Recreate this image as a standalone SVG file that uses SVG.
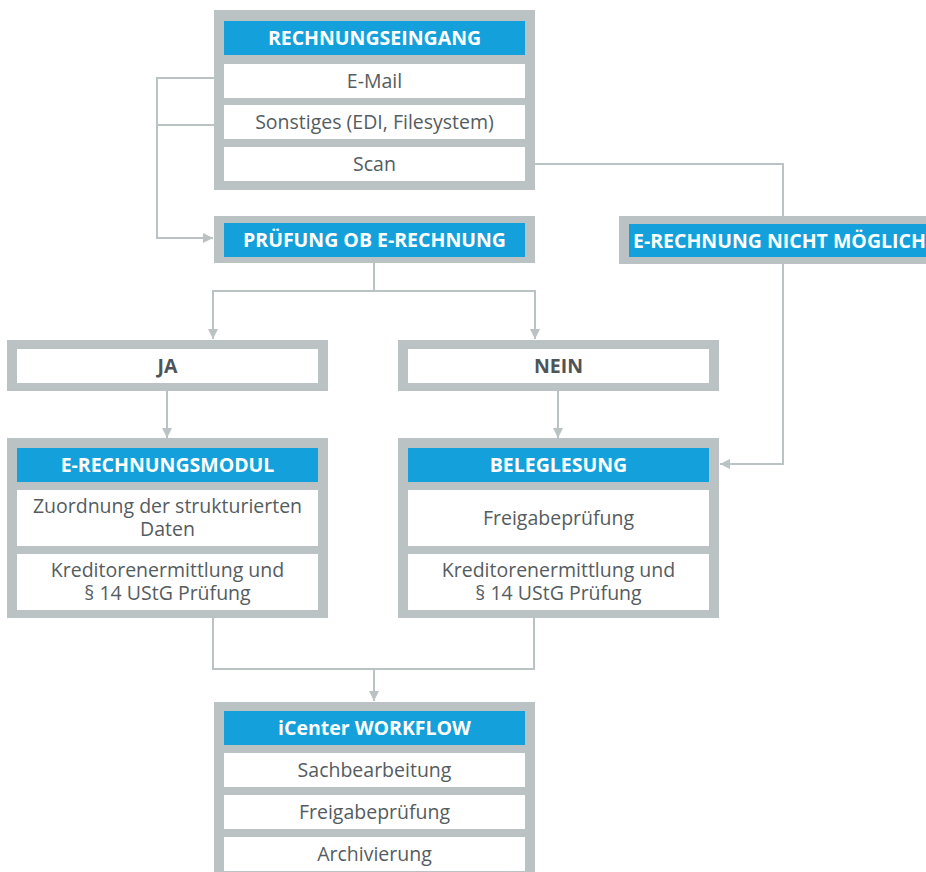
<svg xmlns="http://www.w3.org/2000/svg" width="926" height="872" viewBox="0 0 926 872">
<defs>
<style>
.frame{fill:#BAC2C4}
.head{fill:#14A1DB}
.row{fill:#FFFFFF}
.ht{font-family:"Open Sans","Liberation Sans",sans-serif;font-weight:bold;font-size:19.5px;fill:#FFFFFF;text-anchor:middle}
.bt{font-family:"Open Sans","Liberation Sans",sans-serif;font-weight:bold;font-size:19.5px;fill:#4D5558;text-anchor:middle}
.rt{font-family:"Open Sans","Liberation Sans",sans-serif;font-size:19.5px;fill:#555C5F;text-anchor:middle}
.con{fill:none;stroke:#BAC2C4;stroke-width:2}
</style>
<marker id="ah" viewBox="0 0 10 10" refX="10" refY="5" markerWidth="10" markerHeight="10" markerUnits="userSpaceOnUse" orient="auto">
<path d="M0,0 L10,5 L0,10 z" fill="#BAC2C4"/>
</marker>
</defs>
<rect width="926" height="872" fill="#FFFFFF"/>

<g id="connectors">
<path class="con" d="M214,78 H157 V238 H213" marker-end="url(#ah)"/>
<path class="con" d="M214,125 H157"/>
<path class="con" d="M535,164 H783 V216"/>
<path class="con" d="M783,264 V464 H720" marker-end="url(#ah)"/>
<path class="con" d="M374,263 V291 H213 V339" marker-end="url(#ah)"/>
<path class="con" d="M374,291 H535 V339" marker-end="url(#ah)"/>
<path class="con" d="M167,391 V438" marker-end="url(#ah)"/>
<path class="con" d="M558,391 V438" marker-end="url(#ah)"/>
<path class="con" d="M213,618 V669 H534 V618"/>
<path class="con" d="M374,669 V701" marker-end="url(#ah)"/>
</g>

<g id="rechnungseingang">
<rect class="frame" x="214" y="10" width="321" height="180"/>
<rect class="head" x="224" y="21" width="301" height="34"/>
<text class="ht" x="374.5" y="45">RECHNUNGSEINGANG</text>
<rect class="row" x="224" y="64" width="301" height="34"/>
<text class="rt" x="374.5" y="88">E-Mail</text>
<rect class="row" x="224" y="105" width="301" height="34"/>
<text class="rt" x="374.5" y="129">Sonstiges (EDI, Filesystem)</text>
<rect class="row" x="224" y="147" width="301" height="34"/>
<text class="rt" x="374.5" y="171">Scan</text>
</g>

<g id="pruefung">
<rect class="frame" x="214" y="216" width="321" height="47"/>
<rect class="head" x="224" y="223" width="301" height="34"/>
<text class="ht" x="374.5" y="247">PRÜFUNG OB E-RECHNUNG</text>
</g>

<g id="nicht-moeglich">
<rect class="frame" x="619" y="216" width="320" height="48"/>
<rect class="head" x="629" y="224" width="300" height="33"/>
<text class="ht" x="633" y="248" style="text-anchor:start">E-RECHNUNG NICHT MÖGLICH</text>
</g>

<g id="ja">
<rect class="frame" x="7" y="340" width="321" height="51"/>
<rect class="row" x="17" y="349" width="301" height="34"/>
<text class="bt" x="167.5" y="373">JA</text>
</g>

<g id="nein">
<rect class="frame" x="398" y="340" width="321" height="51"/>
<rect class="row" x="408" y="349" width="301" height="34"/>
<text class="bt" x="558.5" y="373">NEIN</text>
</g>

<g id="e-rechnungsmodul">
<rect class="frame" x="7" y="438" width="321" height="180"/>
<rect class="head" x="17" y="448" width="301" height="34"/>
<text class="ht" x="167.5" y="472">E-RECHNUNGSMODUL</text>
<rect class="row" x="17" y="490" width="301" height="56"/>
<text class="rt" x="167.5" y="513">Zuordnung der strukturierten<tspan x="167.5" dy="23">Daten</tspan></text>
<rect class="row" x="17" y="554" width="301" height="56"/>
<text class="rt" x="167.5" y="577">Kreditorenermittlung und<tspan x="167.5" dy="23">§ 14 UStG Prüfung</tspan></text>
</g>

<g id="beleglesung">
<rect class="frame" x="398" y="438" width="321" height="180"/>
<rect class="head" x="408" y="448" width="301" height="34"/>
<text class="ht" x="558.5" y="472">BELEGLESUNG</text>
<rect class="row" x="408" y="490" width="301" height="56"/>
<text class="rt" x="558.5" y="525">Freigabeprüfung</text>
<rect class="row" x="408" y="554" width="301" height="56"/>
<text class="rt" x="558.5" y="577">Kreditorenermittlung und<tspan x="558.5" dy="23">§ 14 UStG Prüfung</tspan></text>
</g>

<g id="icenter-workflow">
<rect class="frame" x="214" y="702" width="321" height="180"/>
<rect class="head" x="224" y="711" width="301" height="34"/>
<text class="ht" x="374.5" y="735">iCenter WORKFLOW</text>
<rect class="row" x="224" y="753" width="301" height="34"/>
<text class="rt" x="374.5" y="777">Sachbearbeitung</text>
<rect class="row" x="224" y="795" width="301" height="34"/>
<text class="rt" x="374.5" y="819">Freigabeprüfung</text>
<rect class="row" x="224" y="837" width="301" height="34"/>
<text class="rt" x="374.5" y="861">Archivierung</text>
</g>
</svg>
